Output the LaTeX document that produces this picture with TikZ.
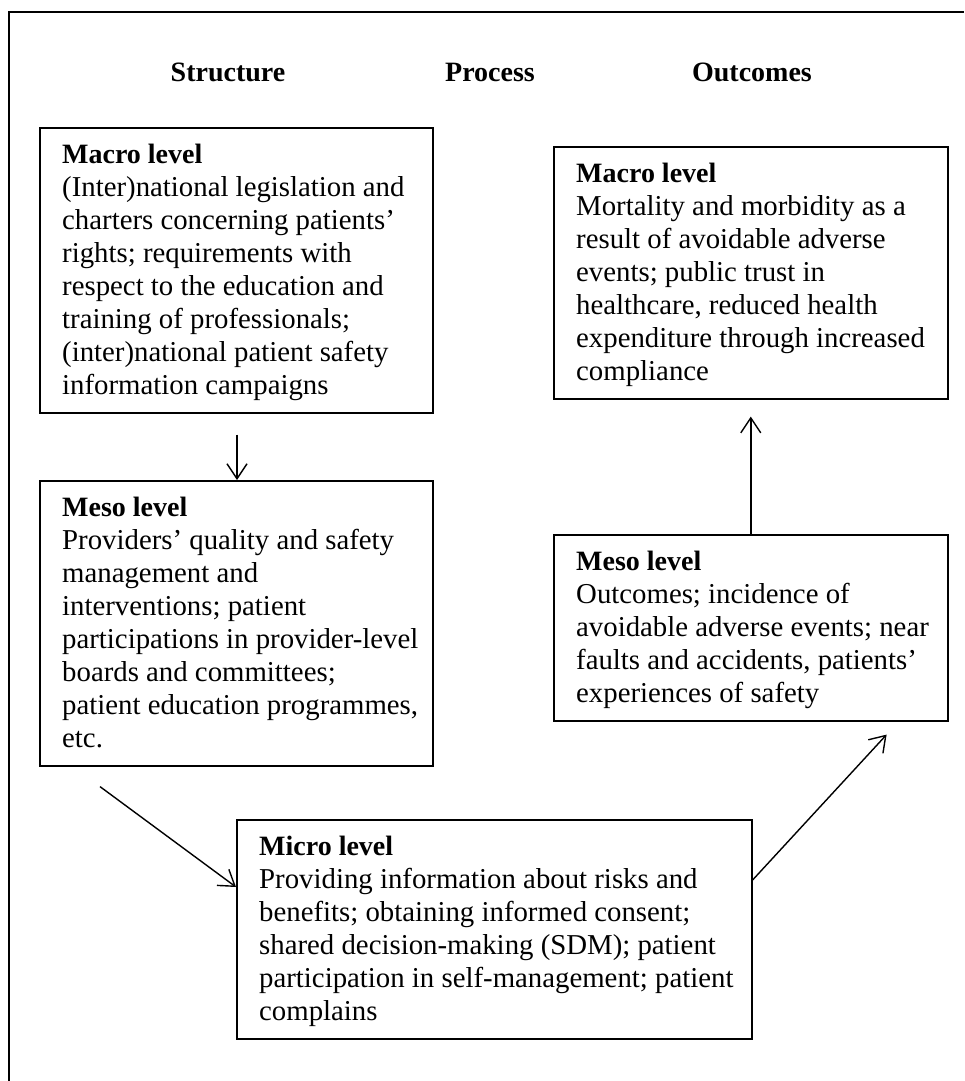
\documentclass[tikz,border=0pt]{standalone}
\usepackage{fontspec}
\setmainfont{Liberation Serif}
\usetikzlibrary{arrows.meta,calc}

% body and heading sizes
\newcommand{\bodysize}{\fontsize{28.8}{33}\selectfont}
\newcommand{\lvl}[1]{{\fontsize{28}{33}\selectfont\bfseries #1}}

\begin{document}
\begin{tikzpicture}[x=1pt,y=-1pt,
  frame/.style={line width=1.6pt},
  box/.style={draw, line width=1.6pt, anchor=north west, inner sep=0pt},
  boxtext/.style={anchor=north west, inner sep=0pt, align=left, font=\bodysize},
  head/.style={font=\fontsize{28}{33}\selectfont\bfseries, anchor=center},
  link/.style={line width=1.4pt, -{Straight Barb[length=15pt, width=20pt, line width=1.4pt]}}]

\useasboundingbox (0,0) rectangle (964,1081);

% open frame: top and left edges only
\draw[frame] (9,1081) -- (9,12) -- (964,12);

% column headings
\node[head] (hS) at (228,72) {Structure};
\node[head] (hP) at (490,72) {Process};
\node[head] (hO) at (752,72) {Outcomes};

% boxes: height = 21 + 33 x (number of lines)
\node[box, minimum width=393pt, minimum height=285pt] (macroL) at (39,127) {};
\node[box, minimum width=393pt, minimum height=285pt] (mesoL)  at (39,480) {};
\node[box, minimum width=515pt, minimum height=219pt] (micro)  at (236,819) {};
\node[box, minimum width=394pt, minimum height=252pt] (macroR) at (553,146) {};
\node[box, minimum width=394pt, minimum height=186pt] (mesoR)  at (553,534) {};

\node[boxtext] (tmacroL) at ($(macroL.north west)+(23,10)$) {\rule{0pt}{26pt}\lvl{Macro level}\\
(Inter)national legislation and\\
charters concerning patients’\\
rights; requirements with\\
respect to the education and\\
training of professionals;\\
(inter)national patient safety\\
information campaigns};

\node[boxtext] (tmesoL) at ($(mesoL.north west)+(23,10)$) {\rule{0pt}{26pt}\lvl{Meso level}\\
Providers’ quality and safety\\
management and\\
interventions; patient\\
participations in provider-level\\
boards and committees;\\
patient education programmes,\\
etc.};

\node[boxtext] (tmicro) at ($(micro.north west)+(23,10)$) {\rule{0pt}{26pt}\lvl{Micro level}\\
Providing information about risks and\\
benefits; obtaining informed consent;\\
shared decision-making (SDM); patient\\
participation in self-management; patient\\
complains};

\node[boxtext] (tmacroR) at ($(macroR.north west)+(23,10)$) {\rule{0pt}{26pt}\lvl{Macro level}\\
Mortality and morbidity as a\\
result of avoidable adverse\\
events; public trust in\\
healthcare, reduced health\\
expenditure through increased\\
compliance};

\node[boxtext] (tmesoR) at ($(mesoR.north west)+(23,10)$) {\rule{0pt}{26pt}\lvl{Meso level}\\
Outcomes; incidence of\\
avoidable adverse events; near\\
faults and accidents, patients’\\
experiences of safety};

% connectors
\coordinate (c1) at ($(macroL.south west)+(198,21)$);
\draw[link] (c1) -- (c1 |- mesoL.north);

\coordinate (c2) at ($(mesoL.south west)+(61,20)$);
\draw[link] (c2) -- ($(micro.north west)+(0,68)$);

\coordinate (c3) at ($(mesoR.south east)+(-62,13)$);
\draw[link] ($(micro.north east)+(0,61)$) -- (c3);

\draw[link] (mesoR.north) -- ($(macroR.south)+(0,17)$);
\end{tikzpicture}
\end{document}
